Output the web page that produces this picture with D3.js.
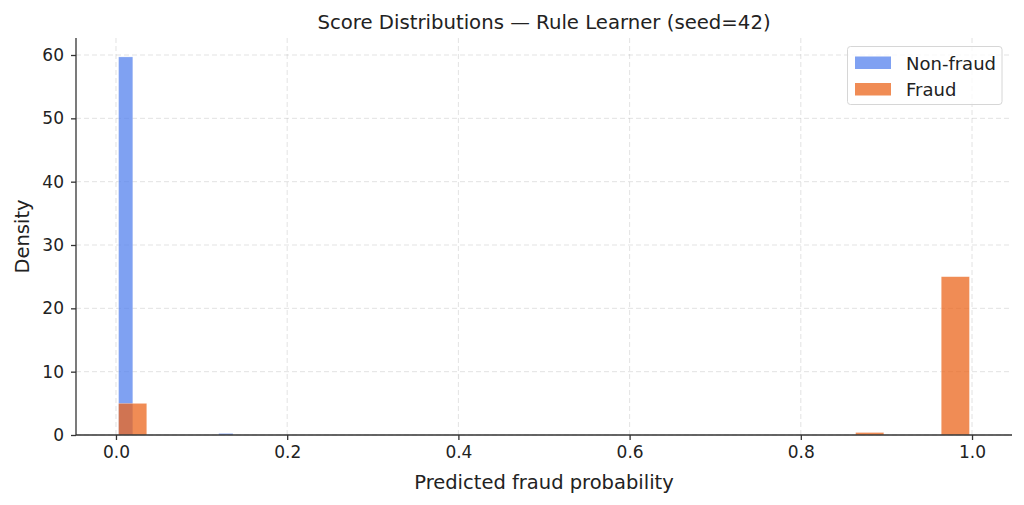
<!DOCTYPE html>
<html>
<head>
<meta charset="utf-8">
<script src="https://cdn.jsdelivr.net/npm/d3@7"></script>
<style>
  html, body { margin: 0; padding: 0; background: #fff; }
  svg { display: block; font-family: "DejaVu Sans", sans-serif; }
</style>
</head>
<body>
<svg id="chart" width="1024" height="505"></svg>
<script>
// ---- data ----
const seriesNames = ["Non-fraud", "Fraud"];
const nonFraudX0 = [0.003, 0.120];
const nonFraudX1 = [0.0197, 0.1367];
const nonFraudDensity = [59.7, 0.25];
const fraudX0 = [0.003, 0.864, 0.964];
const fraudX1 = [0.036, 0.897, 0.997];
const fraudDensity = [5.0, 0.4, 25.0];
const xTicks = [0.0, 0.2, 0.4, 0.6, 0.8, 1.0];
const yTicks = [0, 10, 20, 30, 40, 50, 60];
const titleText = "Score Distributions \u2014 Rule Learner (seed=42)";
const xLabel = "Predicted fraud probability";
const yLabel = "Density";

// ---- layout ----
const W = 1024, H = 505;
const m = { left: 76, right: 12, top: 38, bottom: 70 };
const iw = W - m.left - m.right, ih = H - m.top - m.bottom;

const xMin = d3.min(nonFraudX0.concat(fraudX0));
const xMax = d3.max(nonFraudX1.concat(fraudX1));
const xPad = 0.05 * (xMax - xMin);
const yMax = d3.max(nonFraudDensity.concat(fraudDensity)) * 1.05;

const x = d3.scaleLinear().domain([xMin - xPad, xMax + xPad]).range([0, iw]);
const y = d3.scaleLinear().domain([0, yMax]).range([ih, 0]);

const colors = { nf: "#5482EE", fr: "#EB661C" };
const alpha = 0.75;

const svg = d3.select("#chart");
const g = svg.append("g").attr("transform", `translate(${m.left},${m.top})`);

// grid
g.append("g").selectAll("line").data(xTicks).join("line")
  .attr("x1", d => x(d)).attr("x2", d => x(d)).attr("y1", 0).attr("y2", ih)
  .attr("stroke", "#b0b0b0").attr("stroke-opacity", 0.35).attr("stroke-width", 1)
  .attr("stroke-dasharray", "5,3");
g.append("g").selectAll("line").data(yTicks).join("line")
  .attr("x1", 0).attr("x2", iw).attr("y1", d => y(d)).attr("y2", d => y(d))
  .attr("stroke", "#b0b0b0").attr("stroke-opacity", 0.35).attr("stroke-width", 1)
  .attr("stroke-dasharray", "5,3");

// bars
const nf = nonFraudX0.map((d, i) => ({ x0: d, x1: nonFraudX1[i], v: nonFraudDensity[i] }));
const fr = fraudX0.map((d, i) => ({ x0: d, x1: fraudX1[i], v: fraudDensity[i] }));

function drawBars(data, color) {
  g.append("g").selectAll("rect").data(data).join("rect")
    .attr("x", d => x(d.x0)).attr("width", d => x(d.x1) - x(d.x0))
    .attr("y", d => y(d.v)).attr("height", d => y(0) - y(d.v))
    .attr("fill", color).attr("fill-opacity", alpha)
    .attr("stroke", "#fff").attr("stroke-width", 0.5).attr("stroke-opacity", 0.6);
}
drawBars(nf, colors.nf);
drawBars(fr, colors.fr);

// axes
const xAxis = d3.axisBottom(x).tickValues(xTicks).tickFormat(d3.format(".1f")).tickSize(5).tickPadding(6);
const yAxis = d3.axisLeft(y).tickValues(yTicks).tickFormat(d3.format("d")).tickSize(5).tickPadding(7);

const gx = g.append("g").attr("transform", `translate(0,${ih})`).call(xAxis);
const gy = g.append("g").call(yAxis);
[gx, gy].forEach(a => {
  a.selectAll("path").attr("stroke", "#333").attr("stroke-width", 1.3);
  a.selectAll(".tick line").attr("stroke", "#333").attr("stroke-width", 1.3);
  a.selectAll("text").attr("fill", "#222").style("font-size", "17px")
    .style("font-family", "DejaVu Sans, sans-serif");
});
gx.select("path").attr("d", `M0,0H${iw}`);
gy.select("path").attr("d", `M0,${ih}V0`);

// labels
svg.append("text").attr("x", m.left + iw / 2).attr("y", 29)
  .attr("text-anchor", "middle").style("font-size", "19.7px").attr("fill", "#222")
  .text(titleText);
svg.append("text").attr("x", m.left + iw / 2).attr("y", 489)
  .attr("text-anchor", "middle").style("font-size", "19.5px").attr("fill", "#222")
  .text(xLabel);
svg.append("text").attr("transform", `translate(29,${m.top + ih / 2}) rotate(-90)`)
  .attr("text-anchor", "middle").style("font-size", "19.5px").attr("fill", "#222")
  .text(yLabel);

// legend
const lg = svg.append("g").attr("transform", "translate(847.5,46.5)");
lg.append("rect").attr("x", 0).attr("y", 0).attr("width", 154.5).attr("height", 58)
  .attr("rx", 3).attr("fill", "#fff").attr("fill-opacity", 0.8)
  .attr("stroke", "#d6d6d6").attr("stroke-width", 1);
[colors.nf, colors.fr].forEach((c, i) => {
  lg.append("rect").attr("x", 7.5).attr("y", 10 + i * 26.5).attr("width", 36).attr("height", 12.5)
    .attr("fill", c).attr("fill-opacity", alpha);
  lg.append("text").attr("x", 58.5).attr("y", 23 + i * 26.5)
    .style("font-size", "18px").attr("fill", "#222").text(seriesNames[i]);
});
</script>
</body>
</html>
